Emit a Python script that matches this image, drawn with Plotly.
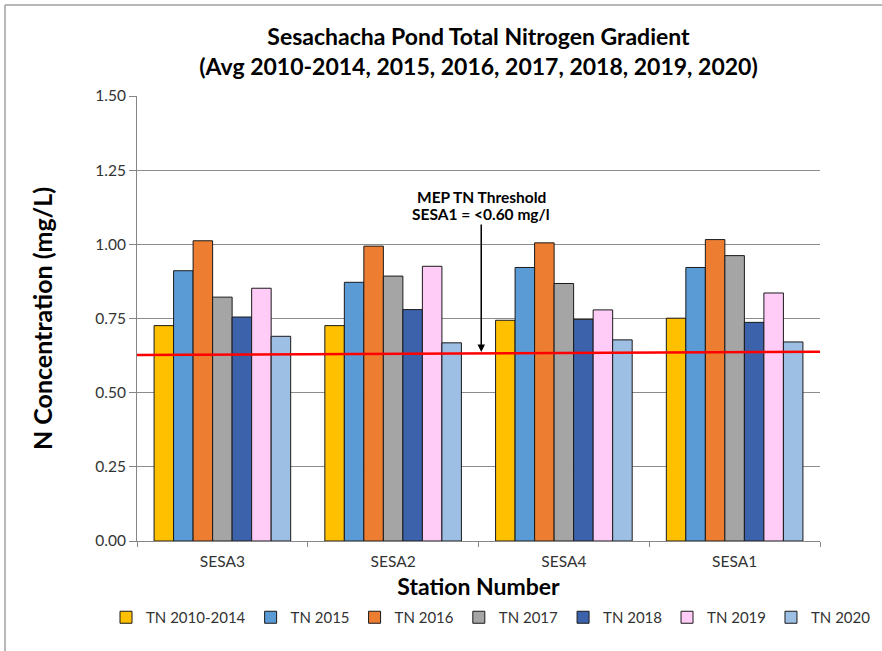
import plotly.graph_objects as go

stations = ["SESA3", "SESA2", "SESA4", "SESA1"]
series_names = ["TN 2010-2014", "TN 2015", "TN 2016", "TN 2017", "TN 2018", "TN 2019", "TN 2020"]
tn_2010_2014 = [0.726, 0.726, 0.744, 0.751]
tn_2015 = [0.911, 0.872, 0.922, 0.922]
tn_2016 = [1.012, 0.994, 1.005, 1.016]
tn_2017 = [0.822, 0.893, 0.868, 0.962]
tn_2018 = [0.755, 0.780, 0.747, 0.737]
tn_2019 = [0.852, 0.926, 0.779, 0.836]
tn_2020 = [0.690, 0.668, 0.678, 0.671]
series_values = [tn_2010_2014, tn_2015, tn_2016, tn_2017, tn_2018, tn_2019, tn_2020]
colors = ["#FFC000", "#5B9BD5", "#ED7D31", "#A5A5A5", "#3D62AC", "#FFCCF7", "#9DBFE3"]

threshold_start = 0.627
threshold_end = 0.638
y_ticks = [0, 0.25, 0.5, 0.75, 1.0, 1.25, 1.5]

FONT = "Lato"
W, H = 882, 651
L, R, T, B = 137, 62, 96, 110
PW, PH = W - L - R, H - T - B


def px_x(p):
    return (p - L) / PW


def px_y(p):
    return (H - B - p) / PH


fig = go.Figure()
for name, vals, col in zip(series_names, series_values, colors):
    fig.add_trace(go.Bar(
        x=stations, y=vals, name=name,
        marker=dict(color=col, line=dict(color="#1a1a1a", width=1)),
    ))

fig.update_layout(
    width=W, height=H,
    margin=dict(l=L, r=R, t=T, b=B),
    paper_bgcolor="white", plot_bgcolor="white",
    barmode="group", bargap=0.2, bargroupgap=0,
    font=dict(family=FONT, color="#333333"),
    title=dict(
        text="Sesachacha Pond Total Nitrogen Gradient<br>(Avg 2010-2014, 2015, 2016, 2017, 2018, 2019, 2020)",
        x=0.5, xref="paper", xanchor="center",
        y=1 - 45 / H, yref="container", yanchor="middle",
        font=dict(family=FONT, size=23, color="#000000", weight="bold"),
    ),
    xaxis=dict(
        automargin=False,
        showline=True, linecolor="#868686", linewidth=1,
        ticks="outside", tickson="boundaries", ticklen=5, tickcolor="#868686",
        ticklabelstandoff=6,
        tickfont=dict(size=15.5, color="#333333"),
        title=dict(text="Station Number", font=dict(size=23, color="#000000", weight="bold"), standoff=10),
    ),
    yaxis=dict(
        automargin=False,
        range=[0, 1.5], tickvals=y_ticks, tickformat=".2f",
        showline=True, linecolor="#868686", linewidth=1,
        ticks="outside", ticklen=7, tickcolor="#868686",
        showgrid=True, gridcolor="#8c8c8c", gridwidth=1,
        tickfont=dict(size=15.5, color="#333333"),
        title=dict(text="N Concentration (mg/L)", font=dict(size=25, color="#000000", weight="bold"), standoff=35),
        zeroline=False,
    ),
    legend=dict(
        orientation="h", x=px_x(106), xanchor="left", y=px_y(601), yanchor="top",
        font=dict(size=15, color="#333333"), traceorder="normal",
    ),
    showlegend=True,
)

# Threshold line
fig.add_shape(type="line", xref="paper", yref="y", x0=0, x1=1,
              y0=threshold_start, y1=threshold_end,
              line=dict(color="#FF0000", width=2.5))

# Annotation text + arrow
fig.add_annotation(
    xref="paper", yref="paper", x=0.504, y=px_y(197),
    text="<b>MEP TN Threshold</b>", showarrow=False, yanchor="middle",
    font=dict(family=FONT, size=15.5, color="#000000"),
)
fig.add_annotation(
    xref="paper", yref="y", x=0.504, y=0.637,
    text="<b>SESA1 = <0.60 mg/l</b>",
    showarrow=True, arrowhead=2, arrowsize=1, arrowwidth=1.5, arrowcolor="#000000",
    ax=0, ay=214 - 352, axref="pixel", ayref="pixel",
    font=dict(family=FONT, size=15.5, color="#000000"),
)

# Outer chart frame (only top and left edges are visible in the reference)
fig.add_shape(type="line", xref="paper", yref="paper",
              x0=px_x(5), x1=px_x(882), y0=px_y(5), y1=px_y(5),
              line=dict(color="#a0a0a0", width=1.5), layer="below")
fig.add_shape(type="line", xref="paper", yref="paper",
              x0=px_x(5), x1=px_x(5), y0=px_y(5), y1=px_y(651),
              line=dict(color="#a0a0a0", width=1.5), layer="below")

fig.write_html(
    "out.html",
    config={"displayModeBar": False},
    post_script=(
        "document.documentElement.style.margin='0px';"
        "document.documentElement.style.padding='0px';"
        "document.documentElement.style.overflow='hidden';"
        "document.body.style.margin='0px';"
        "document.body.style.padding='0px';"
        "document.body.style.overflow='hidden';"
    ),
)
